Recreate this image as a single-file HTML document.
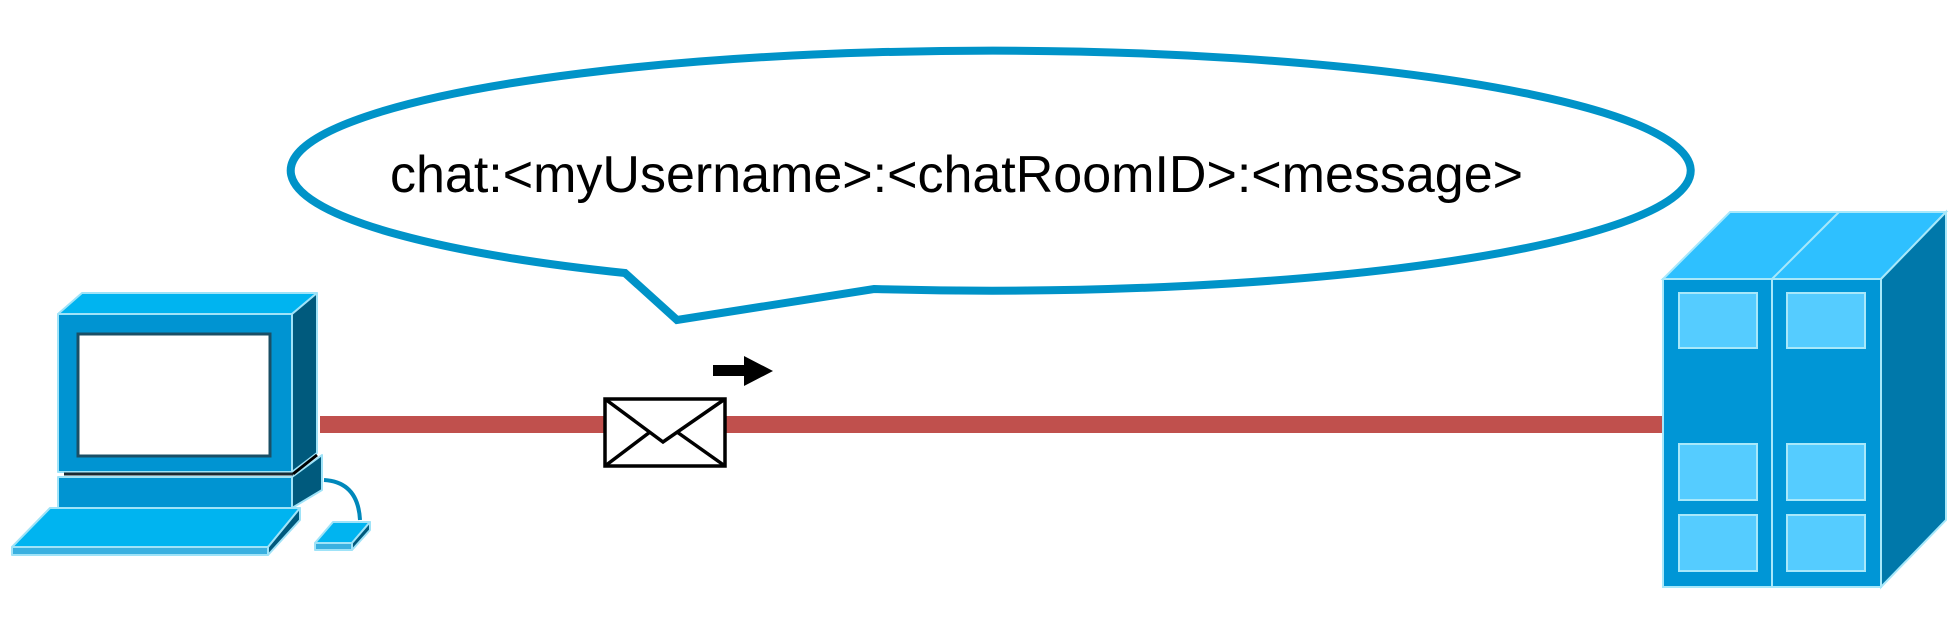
<!DOCTYPE html>
<html><head><meta charset="utf-8"><style>html,body{margin:0;padding:0;background:#fff}svg{display:block}</style></head>
<body>
<svg width="1950" height="620" viewBox="0 0 1950 620" xmlns="http://www.w3.org/2000/svg">
<!-- red link -->
<rect x="320" y="416" width="1343" height="17" fill="#C0504D"/>
<!-- speech bubble -->
<path d="M625,273 A700,120 0 1 1 874,289 L677,320 Z" fill="#fff" stroke="#0093C8" stroke-width="8" stroke-linejoin="miter"/>
<text x="390" y="192" font-family="Liberation Sans, sans-serif" font-size="52" textLength="1133" lengthAdjust="spacingAndGlyphs" fill="#000">chat:&lt;myUsername&gt;:&lt;chatRoomID&gt;:&lt;message&gt;</text>
<!-- arrow -->
<polygon points="713,365 744,365 744,356 773,371 744,386 744,376 713,376" fill="#000"/>
<!-- envelope -->
<rect x="605" y="399" width="120" height="67" fill="#fff" stroke="#000" stroke-width="3.5"/>
<polyline points="605,399 663,442 725,399" fill="none" stroke="#000" stroke-width="3.5"/>
<line x1="605" y1="466" x2="650" y2="432" stroke="#000" stroke-width="3.5"/>
<line x1="725" y1="466" x2="677" y2="432" stroke="#000" stroke-width="3.5"/>
<!-- computer -->
<g stroke="#9FE3F8" stroke-width="2" stroke-linejoin="round">
<polygon points="58,314 82,293 317,293 292,314" fill="#00B4F0"/>
<polygon points="292,314 317,293 317,453 292,472" fill="#005A7D"/>
<rect x="58" y="314" width="234" height="158" fill="#0094D2"/>
<rect x="58" y="477" width="234" height="31" fill="#0094D2"/>
<polygon points="292,477 322,455 322,490 292,508" fill="#005A7D"/>
<polygon points="12,547 50,508 300,508 268,547" fill="#00B4F0"/>
<polygon points="12,547 268,547 268,555 12,555" fill="#3AB0E0"/>
<polygon points="268,547 300,508 300,520 268,555" fill="#005A7D"/>
<polygon points="315,543 333,522 370,522 352,543" fill="#00B4F0"/>
<polygon points="315,543 352,543 352,550 315,550" fill="#3AB0E0"/>
<polygon points="352,543 370,522 370,530 352,550" fill="#005A7D"/>
</g>
<rect x="78" y="334" width="192" height="122" fill="#fff" stroke="#1A4F66" stroke-width="3"/>
<line x1="64" y1="474" x2="293" y2="474" stroke="#1a2a33" stroke-width="3"/>
<line x1="293" y1="474" x2="317" y2="455" stroke="#000" stroke-width="3"/>
<path d="M324,480 Q358,482 360,520" fill="none" stroke="#0088BB" stroke-width="4"/>
<!-- server -->
<g stroke="#A8E8FA" stroke-width="2">
<polygon points="1663,279 1730,212 1946,212 1881,279" fill="#2EC0FF"/>
<line x1="1772" y1="279" x2="1839" y2="212"/>
<polygon points="1881,279 1946,212 1946,520 1881,587" fill="#0078AA"/>
<rect x="1663" y="279" width="109" height="308" fill="#0096D6"/>
<rect x="1772" y="279" width="109" height="308" fill="#0096D6"/>
<rect x="1679" y="293" width="78" height="55" fill="#55CCFF"/>
<rect x="1787" y="293" width="78" height="55" fill="#55CCFF"/>
<rect x="1679" y="444" width="78" height="56" fill="#55CCFF"/>
<rect x="1787" y="444" width="78" height="56" fill="#55CCFF"/>
<rect x="1679" y="515" width="78" height="56" fill="#55CCFF"/>
<rect x="1787" y="515" width="78" height="56" fill="#55CCFF"/>
</g>
</svg>
</body></html>
